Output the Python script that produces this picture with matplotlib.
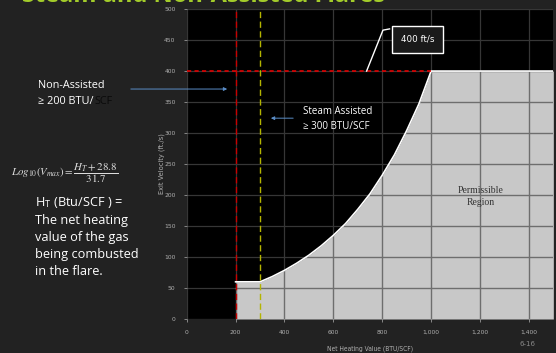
import matplotlib
matplotlib.use("Agg")
import matplotlib.pyplot as plt
from matplotlib.patches import PathPatch

# Permissible exit-velocity envelope (ft/s) versus net heating value (BTU/SCF)
heat_value = [200, 300, 350, 400, 450, 500, 550, 600, 650, 700, 750, 800, 850, 900, 950, 1000, 1500]
exit_velocity = [60, 60, 68.5, 78.5, 90, 103, 118, 135, 154, 177, 202, 232, 265, 304, 347, 400, 400]

non_assisted_min = 200
steam_assisted_min = 300
velocity_cap = 400

x_ticks = [0, 200, 400, 600, 800, 1000, 1200, 1400]
x_tick_labels = ["0", "200", "400", "600", "800", "1,000", "1,200", "1,400"]
y_ticks = [0, 50, 100, 150, 200, 250, 300, 350, 400, 450, 500]

BG = "#222222"
FILL = "#c8c8c8"

fig = plt.figure(figsize=(5.56, 3.53), dpi=100, facecolor=BG)
ax = fig.add_axes([0.3358, 0.0963, 0.6594, 0.878])
ax.set_facecolor("black")
ax.set_xlim(0, 1500)
ax.set_ylim(0, 500)

ax.set_xticks(x_ticks)
ax.set_xticklabels(x_tick_labels)
ax.set_yticks(y_ticks)
ax.tick_params(colors="#b0b0b0", labelsize=4.3, length=2, width=0.5, pad=6)
for s in ax.spines.values():
    s.set_visible(False)
ax.grid(True, color="#363636", lw=0.9, zorder=0)
ax.set_axisbelow(True)

# permissible region
poly = ax.fill_between(heat_value, 0, exit_velocity, color=FILL, lw=0, zorder=1)
ax.plot(heat_value, exit_velocity, color="white", lw=1.2, zorder=3)

# grid lines visible over the filled region
clip_patch = PathPatch(poly.get_paths()[0], transform=ax.transData,
                       facecolor="none", edgecolor="none")
ax.add_patch(clip_patch)
for xt in x_ticks[1:]:
    ln = ax.axvline(xt, color="#6e6e6e", lw=1.0, zorder=2)
    ln.set_clip_path(clip_patch)
for yt in y_ticks[1:]:
    ln = ax.axhline(yt, color="#6e6e6e", lw=1.0, zorder=2)
    ln.set_clip_path(clip_patch)

# limit lines
ax.axvline(non_assisted_min, color="#c80000", lw=1.0, ls=(0, (4.5, 2.5)), zorder=4)
ax.axvline(steam_assisted_min, color="#b3b400", lw=1.0, ls=(0, (4.5, 2.5)), zorder=4)
ax.plot([0, 1000], [velocity_cap, velocity_cap], color="#e00000", lw=1.2,
        ls=(0, (2.5, 2)), zorder=4)

ax.set_xlabel("Net Heating Value (BTU/SCF)", color="#b0b0b0", fontsize=4.8,
              fontstretch="condensed")
ax.xaxis.set_label_coords(0.5, -0.085)
ax.set_ylabel("Exit Velocity (ft./s)", color="#b0b0b0", fontsize=4.8)
ax.yaxis.set_label_coords(-0.058, 0.5)

# callout for the velocity cap
ax.plot([736, 803, 830], [400, 466, 468], color="white", lw=1.0, zorder=5)
ax.text(946, 451, f"{velocity_cap} ft/s", color="white", fontsize=6.3, ha="center",
        va="center", zorder=6, family="Liberation Sans Narrow",
        bbox=dict(boxstyle="square,pad=1.0", fc="#1a1a1a", ec="white", lw=1.0))

ax.text(1204, 197, "Permissible\nRegion", family="Liberation Serif", fontsize=7,
        color="#333333", ha="center", va="center", linespacing=1.45, zorder=6)

# pointers to the limit lines
ax.annotate("", xy=(177, 371), xytext=(-240, 371), annotation_clip=False,
            arrowprops=dict(arrowstyle="-|>", color="#5b8ec8", lw=0.7,
                            mutation_scale=5))
ax.annotate("", xy=(333, 324), xytext=(447, 324),
            arrowprops=dict(arrowstyle="-|>", color="#5b8ec8", lw=0.7,
                            mutation_scale=5))
ax.text(475, 323, "Steam Assisted\n\u2265 300 BTU/SCF", color="white", fontsize=7,
        family="Open Sans", va="center", ha="left", linespacing=1.45, zorder=6)

# left panel text
fig.text(0.068, 0.758, "Non-Assisted", color="white", fontsize=7.8, family="Open Sans",
         va="center")
fig.text(0.068, 0.712, "\u2265 200 BTU/", color="white", fontsize=7.8,
         family="Open Sans", va="center")
fig.text(0.170, 0.712, "SCF", color="#0a0a0a", fontsize=7.8, family="Open Sans",
         va="center")

plt.rcParams["mathtext.fontset"] = "stix"
fig.text(0.02, 0.51, r"$Log_{10}(V_{max})=\dfrac{H_T + 28.8}{31.7}$",
         color="#dddddd", fontsize=7.8, va="center")

fig.text(0.063, 0.33,
         "H$_\\mathregular{T}$ (Btu/SCF ) =\nThe net heating\nvalue of the gas\n"
         "being combusted\nin the flare.",
         color="white", fontsize=9.2, family="Open Sans", va="center",
         linespacing=1.4)

# heading
fig.text(0.04, 0.995, "Steam and Non-Assisted Flares", color="#a3cc2a",
         fontsize=17, fontweight="bold", family="Open Sans", va="baseline")

fig.text(0.948, 0.02, "6-16", color="#8a8a8a", fontsize=5, ha="center")

fig.savefig("out.png", dpi=100, facecolor=BG)
